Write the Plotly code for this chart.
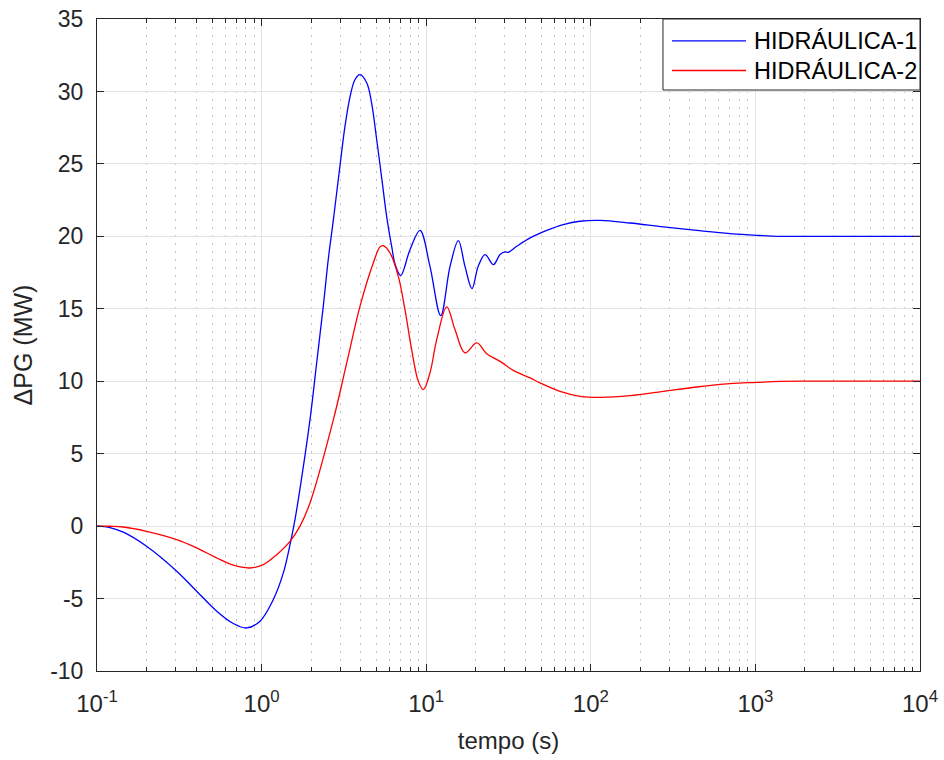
import plotly.graph_objects as go

t_h1 = [0.1, 0.12, 0.1445, 0.2, 0.305, 0.403, 0.534, 0.673, 0.812, 0.978, 1.178, 1.355, 1.488, 1.595,
        1.671, 1.968, 2.16, 2.37, 2.54, 2.73, 2.99, 3.21, 3.45, 3.69, 3.96, 4.35, 4.66, 5.0, 5.37,
        5.75, 6.17, 6.5, 7.0, 7.97, 9.17, 10.54, 12.25, 13.96, 15.68, 17.2, 18.97, 20.7, 22.8, 25.6,
        28.1, 30.1, 31.5, 35.5, 42.8, 54, 68.1, 85.9, 113.7, 173, 276, 440, 701, 1019, 1410, 2500,
        5000, 10000]
v_h1 = [0.0, -0.1, -0.42, -1.39, -3.11, -4.49, -5.87, -6.72, -7.03, -6.56, -5.07, -3.23, -1.28, 0.45,
        1.83, 7.35, 11.26, 15.17, 18.39, 21.15, 24.83, 27.59, 29.66, 30.81, 31.16, 30.6, 29.2, 26.7, 24.0,
        21.38, 19.3, 18.0, 17.29, 19.08, 20.41, 17.93, 14.53, 17.93, 19.7, 17.93, 16.39, 17.93, 18.74, 18.05,
        18.74, 18.92, 18.9, 19.31, 19.89, 20.41, 20.81, 21.04, 21.1, 20.92, 20.65, 20.41, 20.19, 20.07, 20.0, 20.0,
        20.0, 20.0]

t_h2 = [0.1, 0.12, 0.1445, 0.2, 0.305, 0.403, 0.534, 0.673, 0.85, 1.024, 1.235, 1.488, 1.711, 1.968,
        2.73, 3.29, 3.96, 4.77, 5.24, 5.48, 6.03, 6.77, 7.43, 8.16, 8.96, 9.61, 10.54, 11.58, 13.33,
        14.97, 17.2, 20.3, 23.3, 28.1, 33.8, 42.8, 49.1, 65, 85.9, 113.7, 173, 276, 440, 701, 1019,
        1410, 2500, 5000, 10000]
v_h2 = [0.0, -0.01, -0.06, -0.36, -0.93, -1.5, -2.2, -2.7, -2.89, -2.66, -1.97, -1.05, 0.0, 1.6,
        7.35, 11.26, 15.17, 18.16, 19.27, 19.36, 18.85, 17.24, 14.94, 12.18, 9.99, 9.42, 10.57, 12.87, 15.13,
        13.56, 11.95, 12.64, 11.9, 11.37, 10.75, 10.23, 9.88, 9.3, 8.96, 8.89, 9.0, 9.3, 9.6, 9.83, 9.92,
        9.99, 10.0, 10.0, 10.0]

series = [("HIDRÁULICA-1", t_h1, v_h1, "#0000ff"), ("HIDRÁULICA-2", t_h2, v_h2, "#ff0000")]

x_tickvals = [0.1, 1, 10, 100, 1000, 10000]
x_ticktext = ["10<sup>-1</sup>", "10<sup>0</sup>", "10<sup>1</sup>", "10<sup>2</sup>", "10<sup>3</sup>", "10<sup>4</sup>"]
x_minorvals = [m * 10 ** e for e in range(-1, 4) for m in range(2, 10)]
y_tickvals = [-10, -5, 0, 5, 10, 15, 20, 25, 30, 35]
y_ticktext = ["-10", "-5", "0", "5", "10", "15", "20", "25", "30", "35"]

FONT = "Liberation Sans, Arial, Helvetica, sans-serif"
INK = "#262626"

fig = go.Figure()
for name, t, v, c in series:
    fig.add_trace(go.Scatter(x=t, y=v, name=name, mode="lines", showlegend=False,
                             line=dict(color=c, width=1.3, shape="spline", smoothing=1.0)))

axis_common = dict(showline=True, linecolor=INK, linewidth=1, mirror="allticks",
                   ticks="inside", ticklen=7, tickcolor=INK, automargin=False,
                   gridcolor="#e3e3e3", gridwidth=1, zeroline=False)

fig.update_xaxes(type="log", range=[-1, 4], tickvals=x_tickvals, ticktext=x_ticktext,
                 ticklabelstandoff=11, tickfont=dict(family=FONT, size=24, color=INK),
                 title=dict(text="tempo (s)", font=dict(family=FONT, size=24, color=INK), standoff=16),
                 minor=dict(tickvals=x_minorvals, ticks="inside", ticklen=4, tickcolor=INK, showgrid=True,
                            gridcolor="#c2c2c2", griddash="2px,6px", gridwidth=1),
                 **axis_common)
fig.update_yaxes(range=[-10, 35], tickvals=y_tickvals, ticktext=y_ticktext,
                 ticklabelstandoff=8, tickfont=dict(family=FONT, size=23, color=INK),
                 title=dict(text="ΔPG (MW)", font=dict(family=FONT, size=25, color=INK), standoff=10),
                 **axis_common)

# Legend box (MATLAB style, top-right inside axes)
fig.add_shape(type="rect", xref="paper", yref="paper", x0=0.6877, x1=1.0, y0=0.8911, y1=1.0,
              line=dict(color=INK, width=1), fillcolor="white", layer="above")
leg_y = [0.9663, 0.9210]
for (name, _, _, c), yy in zip(series, leg_y):
    fig.add_shape(type="line", xref="paper", yref="paper", x0=0.6987, x1=0.7886, y0=yy, y1=yy,
                  line=dict(color=c, width=1.3), layer="above")
    fig.add_annotation(xref="paper", yref="paper", x=0.7959, y=yy, xanchor="left", yanchor="middle",
                       text=name, showarrow=False, font=dict(family=FONT, size=23.5, color="#000000"))

fig.update_layout(width=944, height=760, margin=dict(l=97, r=24, t=19, b=89),
                  plot_bgcolor="white", paper_bgcolor="white", showlegend=False)
fig.write_html("out.html")
